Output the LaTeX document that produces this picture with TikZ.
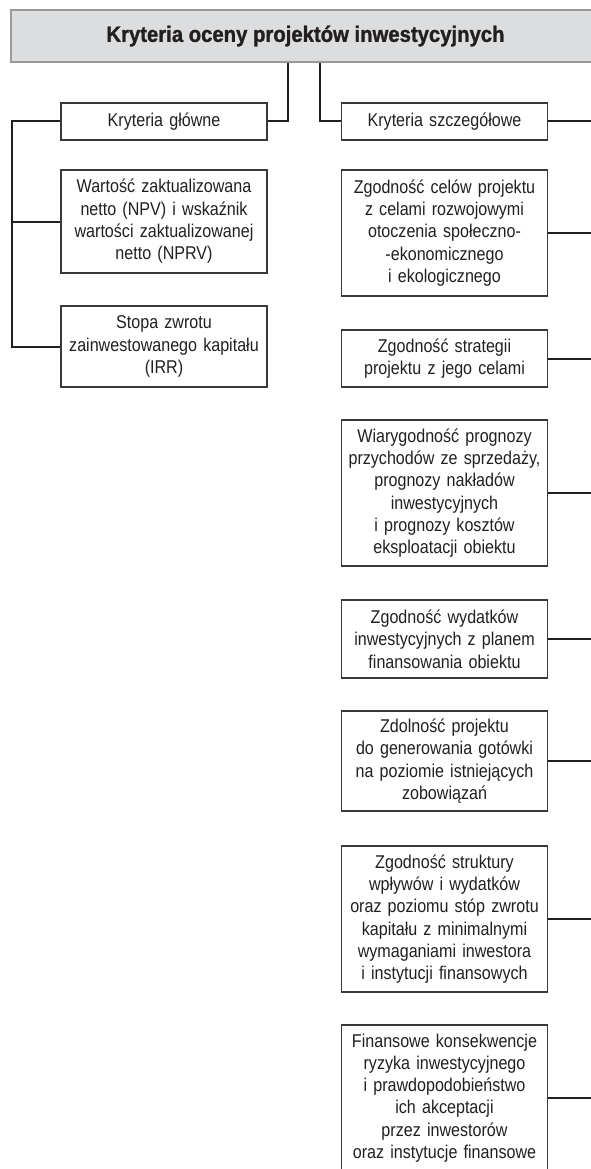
\documentclass[tikz,border=0pt]{standalone}
\usepackage{fontspec}
\setmainfont{Liberation Sans}[FakeStretch=0.87]
\newfontfamily\hdrfont{Liberation Sans}[FakeStretch=0.91,BoldFeatures={FakeBold=1.2}]
\definecolor{ink}{HTML}{231F20}
\definecolor{hdrfill}{HTML}{DCDDDF}
\definecolor{hdrline}{HTML}{9A9A9A}
\definecolor{boxline}{HTML}{3A3A3A}
\tikzset{
  critbox/.style={draw=boxline, line width=1.3pt, rectangle, fill=white,
    minimum width=206pt, text width=200pt, align=center, inner xsep=3pt, inner ysep=0pt,
    text=ink, font=\fontsize{18.5}{22.3}\selectfont},
  hdrbox/.style={draw=hdrline, line width=2.4pt, fill=hdrfill, rectangle,
    minimum width=589pt, minimum height=52pt, text=ink,
    font=\hdrfont\bfseries\fontsize{22.3}{26}\selectfont},
  link/.style={draw=ink, line width=2pt}
}
\begin{document}
\begin{tikzpicture}[x=1pt,y=-1pt]
\useasboundingbox (0,0) rectangle (591,1169);
\clip (0,0) rectangle (591,1169);
\fill[white] (0,0) rectangle (591,1169);

\node[hdrbox] (hdr) at (305.5,36) {Kryteria oceny projektów inwestycyjnych};

% left column
\node[critbox, minimum height=37pt] (kg) at (164,121.5) {Kryteria główne};
\node[critbox, minimum height=103pt] (npv) at (164,221.5) {Wartość zaktualizowana\\netto (NPV) i wskaźnik\\wartości zaktualizowanej\\netto (NPRV)};
\node[critbox, minimum height=81pt] (irr) at (164,346.5) {Stopa zwrotu\\zainwestowanego kapitału\\(IRR)};

% right column
\node[critbox, minimum height=37pt] (ks) at (444.5,121.5) {Kryteria szczegółowe};
\node[critbox, minimum height=126pt] (r1) at (444.5,233) {Zgodność celów projektu\\z celami rozwojowymi\\otoczenia społeczno-\\-ekonomicznego\\i ekologicznego};
\node[critbox, minimum height=57pt] (r2) at (444.5,358.5) {Zgodność strategii\\projektu z jego celami};
\node[critbox, minimum height=146pt] (r3) at (444.5,493) {Wiarygodność prognozy\\przychodów ze sprzedaży,\\prognozy nakładów\\inwestycyjnych\\i prognozy kosztów\\eksploatacji obiektu};
\node[critbox, minimum height=78pt] (r4) at (444.5,639) {Zgodność wydatków\\inwestycyjnych z planem\\finansowania obiektu};
\node[critbox, minimum height=100pt] (r5) at (444.5,761) {Zdolność projektu\\do generowania gotówki\\na poziomie istniejących\\zobowiązań};
\node[critbox, minimum height=146pt] (r6) at (444.5,919) {Zgodność struktury\\wpływów i wydatków\\oraz poziomu stóp zwrotu\\kapitału z minimalnymi\\wymaganiami inwestora\\i instytucji finansowych};
\node[critbox, minimum height=146pt] (r7) at (444.5,1098) {Finansowe konsekwencje\\ryzyka inwestycyjnego\\i prawdopodobieństwo\\ich akceptacji\\przez inwestorów\\oraz instytucje finansowe};

% helper coordinates
\coordinate (v1) at (288,0);
\coordinate (v2) at (320,0);
\coordinate (lx) at (12,0);
\coordinate (edge) at (596,0);

% header links
\draw[link] (hdr.south -| v1) -- (v1 |- kg.east) -- (kg.east);
\draw[link] (hdr.south -| v2) -- (v2 |- ks.west) -- (ks.west);

% left tree
\draw[link] (kg.west) -- (kg.west -| lx) -- (irr.west -| lx) -- (irr.west);
\draw[link] (npv.west) -- (npv.west -| lx);

% right stubs
\foreach \n in {ks,r1,r2,r3,r4,r5,r6,r7}
  \draw[link] (\n.east) -- (\n.east -| edge);
\end{tikzpicture}
\end{document}
